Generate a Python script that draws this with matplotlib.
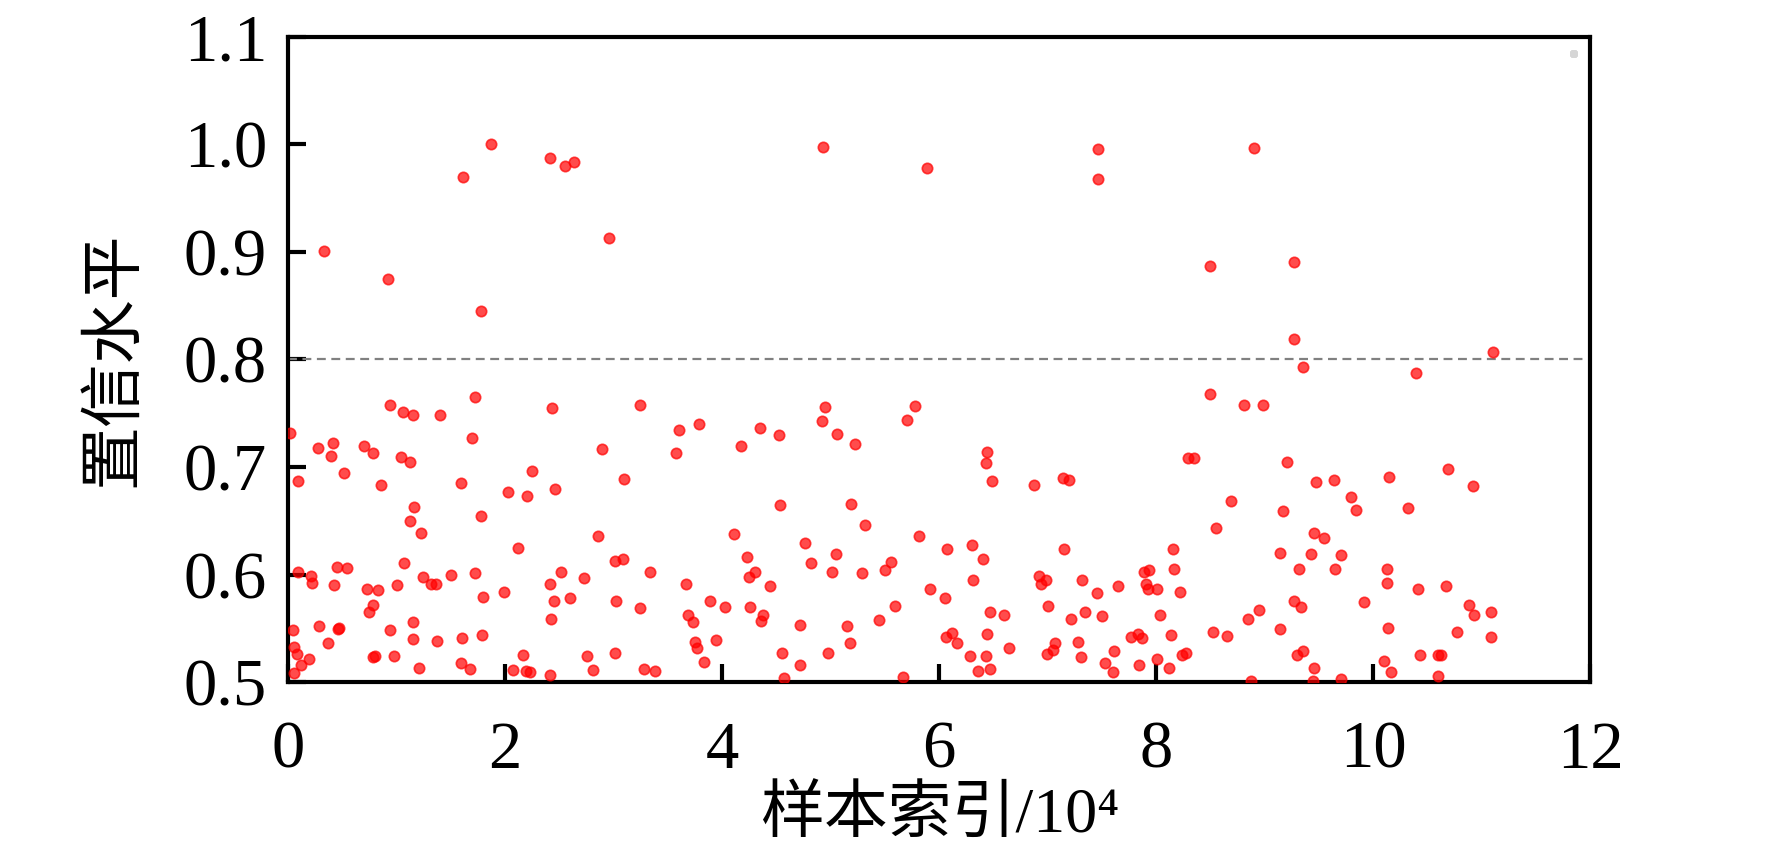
import matplotlib
matplotlib.use('Agg')
import matplotlib.pyplot as plt
import numpy as np

# 样本索引 (x 10^4) 与置信水平
sample_idx = [
    # 0-2
    0.02, 0.09, 0.28, 0.415, 0.40, 0.52, 0.70, 0.78, 0.86, 0.94, 1.06, 1.155, 1.40, 1.04, 1.12,
    1.16, 1.12, 1.23, 1.72, 1.70, 1.59, 1.78, 0.095, 0.215, 0.22, 0.42, 0.455, 0.545, 0.725, 0.83,
    0.78, 1.005, 1.065, 1.245, 1.32, 1.36, 1.50, 1.72, 1.80,
    # 2-4
    2.436, 3.24, 3.60, 3.79, 3.576, 2.89, 2.245, 2.025, 2.205, 2.46, 3.10, 2.117, 2.86, 3.01, 3.085,
    2.513, 2.73, 3.333, 3.665, 2.418, 1.99, 2.45, 2.60, 3.02, 3.24, 3.885,
    # 4-6
    4.95, 4.92, 5.78, 5.70, 4.345, 4.525, 4.17, 5.063, 5.223, 4.53, 5.19, 5.32, 4.11, 5.81, 4.76,
    6.07, 4.227, 4.815, 5.05, 5.555, 5.50, 4.25, 4.30, 4.44, 5.01, 5.285, 5.92, 6.05, 4.03, 4.26,
    5.595,
    # 6-8
    6.44, 6.43, 6.49, 6.87, 7.14, 7.195, 6.30, 6.40, 7.15, 8.157, 8.16, 6.31, 6.92, 6.98, 6.94,
    7.32, 7.456, 7.65, 7.89, 7.935, 7.905, 7.92, 8.01, 7.007, 8.22,
    # 8-10.4
    9.266, 9.35, 8.50, 8.81, 8.98, 8.295, 8.347, 9.204, 9.475, 9.634, 10.147, 9.794, 9.837, 10.316,
    8.69, 9.17, 8.553, 9.454, 9.546, 9.143, 9.426, 9.70, 9.318, 9.65, 10.13, 10.126, 9.27, 9.333,
    9.917, 8.95,
    # 10.4-12
    11.10, 10.39, 10.69, 10.915, 10.41, 10.667,
    # 底部 0.5-0.57
    0.75, 1.155, 2.427, 0.05, 0.29, 0.46, 0.47, 0.937, 0.366, 1.155, 1.37, 1.60, 1.79, 0.055, 0.08,
    0.19, 0.123, 0.058, 0.786, 0.80, 0.98, 1.205, 1.59, 1.68, 2.07, 2.19, 2.23, 2.17, 2.415, 2.755,
    2.81,
    3.69, 3.735, 4.378, 4.36, 4.72, 5.155, 5.45, 3.017, 3.285, 3.385, 3.755, 3.773, 3.94, 3.83, 4.55,
    4.72, 4.975, 5.18, 4.575, 5.668,
    6.465, 6.60, 7.217, 7.34, 7.50, 8.037, 8.85, 6.067, 6.12, 6.166, 6.445, 6.28, 6.436, 6.36, 6.47,
    6.64, 7.066, 7.053, 6.998, 7.28, 7.305, 7.524, 7.607, 7.604, 7.767, 7.834, 7.868, 7.843, 8.003,
    8.12, 8.14, 8.236, 8.27, 8.525, 8.654, 8.87,
    10.88, 10.925, 11.085, 9.143, 10.14, 10.774, 11.085, 9.35, 9.30, 9.456, 10.095, 10.16, 10.43,
    10.60, 10.62, 10.596, 9.44, 9.70,
    # 高置信度
    1.868, 4.933, 7.462, 8.90, 2.418, 2.632, 2.556, 1.616, 5.888, 7.462, 2.96, 0.332, 0.92, 8.50,
    9.273, 1.776,
]
confidence = [
    0.732, 0.687, 0.718, 0.722, 0.710, 0.694, 0.720, 0.713, 0.683, 0.758, 0.751, 0.748, 0.748, 0.709, 0.705,
    0.663, 0.650, 0.639, 0.765, 0.727, 0.685, 0.654, 0.602, 0.599, 0.592, 0.590, 0.607, 0.606, 0.587, 0.586,
    0.572, 0.590, 0.611, 0.598, 0.591, 0.591, 0.600, 0.601, 0.579,
    0.755, 0.758, 0.734, 0.740, 0.713, 0.717, 0.696, 0.677, 0.673, 0.680, 0.689, 0.625, 0.636, 0.613, 0.614,
    0.602, 0.597, 0.602, 0.591, 0.591, 0.584, 0.575, 0.578, 0.575, 0.569, 0.575,
    0.756, 0.743, 0.757, 0.744, 0.736, 0.730, 0.720, 0.731, 0.721, 0.665, 0.666, 0.646, 0.638, 0.636, 0.629,
    0.624, 0.616, 0.611, 0.619, 0.612, 0.604, 0.598, 0.602, 0.589, 0.602, 0.601, 0.587, 0.578, 0.570, 0.570,
    0.571,
    0.714, 0.704, 0.687, 0.683, 0.690, 0.688, 0.627, 0.614, 0.624, 0.624, 0.605, 0.595, 0.599, 0.595, 0.591,
    0.595, 0.583, 0.589, 0.602, 0.604, 0.591, 0.587, 0.587, 0.571, 0.584,
    0.8195, 0.7926, 0.768, 0.758, 0.758, 0.708, 0.708, 0.705, 0.686, 0.688, 0.691, 0.672, 0.660, 0.662,
    0.668, 0.659, 0.643, 0.639, 0.634, 0.620, 0.619, 0.618, 0.605, 0.605, 0.605, 0.592, 0.575, 0.570,
    0.574, 0.567,
    0.807, 0.787, 0.698, 0.682, 0.587, 0.589,
    0.565, 0.556, 0.559, 0.548, 0.552, 0.549, 0.550, 0.548, 0.536, 0.540, 0.538, 0.541, 0.544, 0.533, 0.526,
    0.521, 0.516, 0.508, 0.523, 0.524, 0.524, 0.513, 0.518, 0.512, 0.511, 0.510, 0.509, 0.525, 0.507, 0.524,
    0.511,
    0.562, 0.556, 0.562, 0.557, 0.553, 0.552, 0.558, 0.527, 0.512, 0.510, 0.537, 0.532, 0.539, 0.519, 0.527,
    0.516, 0.527, 0.536, 0.504, 0.505,
    0.565, 0.562, 0.559, 0.565, 0.561, 0.562, 0.559, 0.542, 0.546, 0.536, 0.545, 0.524, 0.524, 0.510, 0.512,
    0.532, 0.536, 0.530, 0.526, 0.537, 0.523, 0.518, 0.529, 0.509, 0.542, 0.545, 0.541, 0.516, 0.521,
    0.513, 0.544, 0.525, 0.527, 0.547, 0.543, 0.501,
    0.572, 0.562, 0.565, 0.549, 0.550, 0.547, 0.542, 0.529, 0.525, 0.513, 0.520, 0.509, 0.525,
    0.525, 0.525, 0.506, 0.501, 0.503,
    1.000, 0.9975, 0.996, 0.997, 0.987, 0.984, 0.980, 0.970, 0.978, 0.968, 0.913, 0.901, 0.875, 0.8865,
    0.8905, 0.8447,
]
threshold = 0.8
x_ticks = [0, 2, 4, 6, 8, 10, 12]
y_ticks = [0.5, 0.6, 0.7, 0.8, 0.9, 1.0, 1.1]

plt.rcParams['font.family'] = ['Liberation Serif', 'Noto Sans CJK SC']
plt.rcParams['axes.unicode_minus'] = False

fig = plt.figure(figsize=(8.86, 4.295), dpi=200)
ax = fig.add_axes([0.1625, 0.206, 0.735, 0.751])

ax.scatter(sample_idx, confidence, s=14, c='red', alpha=0.7, linewidths=0.6, zorder=3)
ax.axhline(threshold, color='gray', linestyle='--', linewidth=0.8, dashes=(4, 2.5), zorder=2)

ax.set_xlim(0, 12)
ax.set_ylim(0.5, 1.1)
ax.set_xticks(x_ticks)
ax.set_yticks(y_ticks)
ax.set_yticklabels([f'{v:.1f}' for v in y_ticks])
ax.tick_params(direction='in', length=6.5, width=1.5, labelsize=24)
ax.tick_params(axis='x', pad=14)
ax.tick_params(axis='y', pad=7.5)
for sp in ax.spines.values():
    sp.set_linewidth(1.5)

ax.set_xlabel('样本索引/10⁴', fontsize=23, labelpad=2)
ax.set_ylabel('置信水平', fontsize=23, labelpad=14)

# 空图例（原图右上角的小方框）
leg = ax.legend(handles=[], loc='upper right', frameon=True, borderpad=0.1)

fig.savefig('out.png', dpi=200)
